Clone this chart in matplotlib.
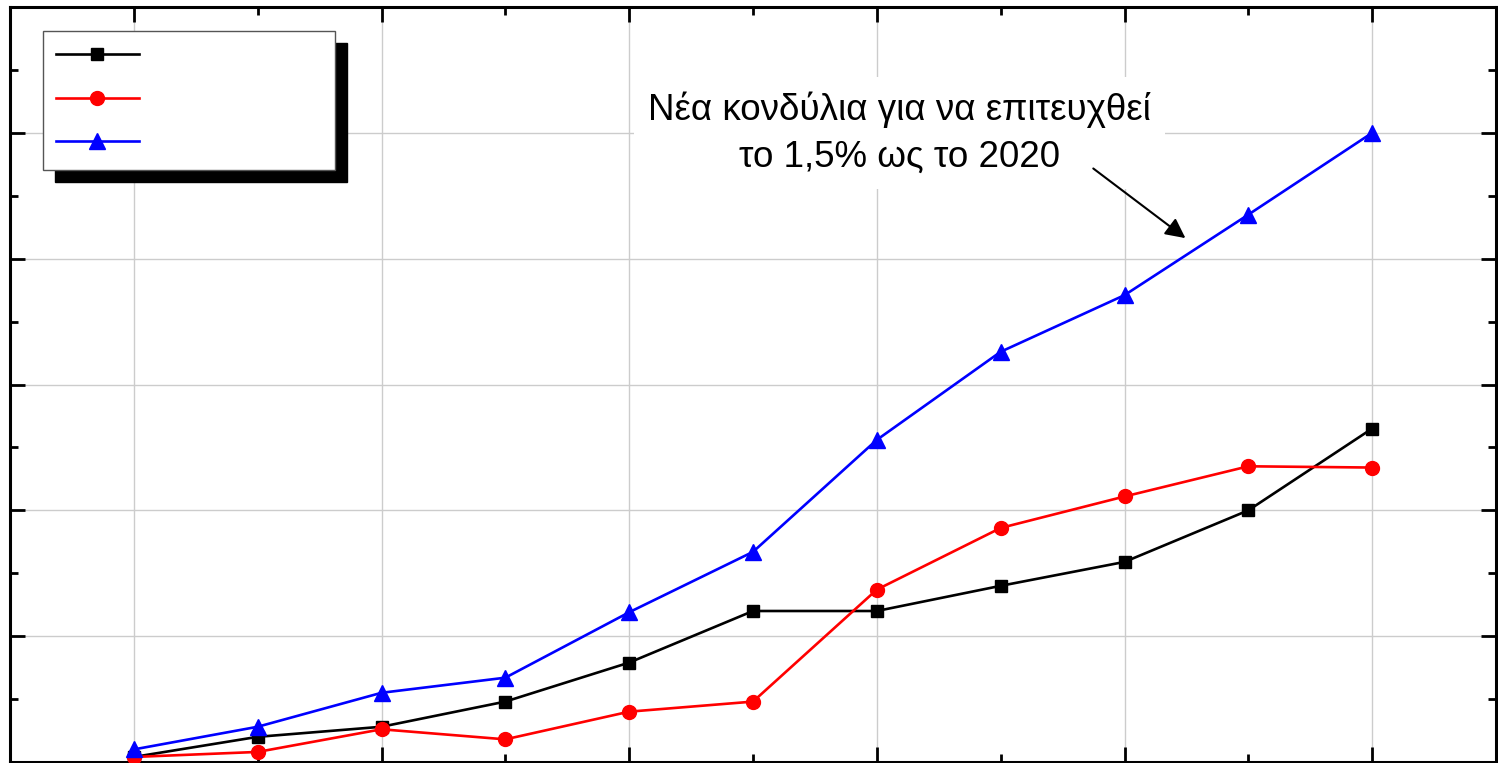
import numpy as np
import matplotlib
matplotlib.use("Agg")
import matplotlib.pyplot as plt
from matplotlib.ticker import MultipleLocator

plt.rcParams['font.family'] = ['Liberation Sans', 'DejaVu Sans']

years = [2010, 2011, 2012, 2013, 2014, 2015, 2016, 2017, 2018, 2019, 2020]
black_vals = [0.04, 0.20, 0.28, 0.48, 0.79, 1.20, 1.20, 1.40, 1.59, 2.00, 2.65]
red_vals = [0.04, 0.08, 0.26, 0.18, 0.40, 0.48, 1.37, 1.86, 2.11, 2.35, 2.34]
blue_vals = [0.10, 0.28, 0.55, 0.67, 1.19, 1.67, 2.56, 3.26, 3.71, 4.35, 5.00]
labels = ["", "", ""]
note = "Νέα κονδύλια για να επιτευχθεί\nτο 1,5% ως το 2020"

W, H = 1498, 763
fig = plt.figure(figsize=(W / 100, H / 100), dpi=100)
ax = fig.add_axes([10 / W, 1 / H, 1486 / W, 755 / H])

l1, = ax.plot(years, black_vals, color="black", lw=1.9, marker="s", ms=9, zorder=3)
l2, = ax.plot(years, red_vals, color="red", lw=1.9, marker="o", ms=10, zorder=3)
l3, = ax.plot(years, blue_vals, color="blue", lw=1.9, marker="^", ms=11, zorder=3)

ax.set_xlim(2009, 2021)
ax.set_ylim(0, 6)
ax.xaxis.set_major_locator(MultipleLocator(2))
ax.xaxis.set_minor_locator(MultipleLocator(1))
ax.yaxis.set_major_locator(MultipleLocator(1))
ax.yaxis.set_minor_locator(MultipleLocator(0.5))
ax.grid(True, which="major", color="#cccccc", lw=1)
ax.set_axisbelow(True)
ax.tick_params(which="both", direction="in", top=True, right=True,
               labelbottom=False, labelleft=False, width=2)
ax.tick_params(which="major", length=11)
ax.tick_params(which="minor", length=6)
for s in ax.spines.values():
    s.set_linewidth(2.2)

leg = ax.legend([l1, l2, l3], labels, loc="upper left",
                bbox_to_anchor=(33 / 1486, 0, 292 / 1486, 1 - 24 / 755),
                mode="expand", borderaxespad=0, fontsize=16,
                handlelength=3.7, handleheight=1.3, borderpad=0.6,
                labelspacing=0.86,
                fancybox=False, framealpha=1, edgecolor="#555555",
                shadow={"color": "black", "alpha": 1, "ox": 8.6, "oy": -8.6})
leg.get_frame().set_linewidth(1)

ax.text(2016.18, 5.0, note, ha="center", va="center", fontsize=26.5,
        linespacing=1.45, zorder=4,
        bbox=dict(facecolor="white", edgecolor="none", pad=10))
ax.annotate("", xy=(2018.51, 4.15), xytext=(2017.73, 4.73),
            arrowprops=dict(arrowstyle="-|>", mutation_scale=30, lw=1.5,
                            color="black"), zorder=4)

fig.savefig("out.png", dpi=100)
